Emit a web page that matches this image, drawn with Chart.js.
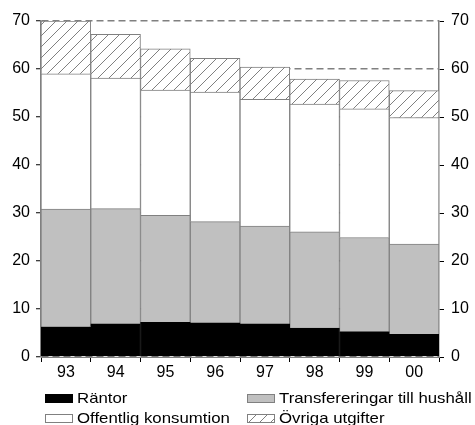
<!DOCTYPE html>
<html><head><meta charset="utf-8">
<script src="https://cdn.jsdelivr.net/npm/chart.js@4/dist/chart.umd.min.js"></script>
<style>html,body{margin:0;padding:0;background:#fff;}#wrap{width:475px;height:425px;position:relative;}</style>
</head><body><div id="wrap"><canvas id="c" width="475" height="425"></canvas></div>
<script>
const categories = ['93','94','95','96','97','98','99','00'];
const rantor = [6.3, 6.9, 7.2, 7.1, 6.9, 6.0, 5.3, 4.7];
const transfereringar = [24.5, 24.0, 22.3, 21.1, 20.4, 20.1, 19.6, 18.8];
const offentligKonsumtion = [28.2, 27.2, 26.1, 27.0, 26.4, 26.6, 26.8, 26.4];
const ovrigaUtgifter = [11.0, 9.1, 8.6, 7.0, 6.7, 5.2, 5.9, 5.6];
const seriesNames = ['Räntor', 'Transfereringar till hushåll', 'Offentlig konsumtion', 'Övriga utgifter'];
const yTicks = [0, 10, 20, 30, 40, 50, 60, 70];

const FONT = '"Liberation Sans", Arial, sans-serif';
const GRAY = '#808080';

function hatch() {
  const s = 11;
  const c = document.createElement('canvas');
  c.width = s; c.height = s;
  const g = c.getContext('2d');
  g.fillStyle = '#fff'; g.fillRect(0, 0, s, s);
  g.strokeStyle = GRAY; g.lineWidth = 1;
  g.beginPath();
  g.moveTo(0, s); g.lineTo(s, 0);
  g.moveTo(-2, 2); g.lineTo(2, -2);
  g.moveTo(s - 2, s + 2); g.lineTo(s + 2, s - 2);
  g.stroke();
  return g.createPattern(c, 'repeat');
}
const hatchPattern = hatch();

const legendPlugin = {
  id: 'customLegend',
  afterDraw(chart) {
    const ctx = chart.ctx;
    const pos = [[45, 394], [247, 394], [45, 414], [247, 414]];
    ctx.save();
    chart.data.datasets.forEach((ds, i) => {
      const [x, y] = pos[i];
      ctx.fillStyle = ds.backgroundColor;
      ctx.fillRect(x, y, 28, 9);
      ctx.strokeStyle = ds.borderColor;
      ctx.lineWidth = 1;
      ctx.strokeRect(x + 0.5, y + 0.5, 27, 8);
      ctx.save();
      ctx.translate(x + 32, y + 5);
      ctx.scale(1.12, 1);
      ctx.fillStyle = '#000';
      ctx.font = '15px ' + FONT;
      ctx.textBaseline = 'middle';
      ctx.textAlign = 'left';
      ctx.fillText(ds.label, 0, 0);
      ctx.restore();
    });
    ctx.restore();
  }
};

const tickFont = { family: FONT, size: 16 };

new Chart(document.getElementById('c'), {
  type: 'bar',
  data: {
    labels: categories,
    datasets: [
      { label: seriesNames[0], data: rantor, backgroundColor: '#000000', borderColor: '#000000', borderWidth: 1 },
      { label: seriesNames[1], data: transfereringar, backgroundColor: '#c0c0c0', borderColor: GRAY, borderWidth: 1 },
      { label: seriesNames[2], data: offentligKonsumtion, backgroundColor: '#ffffff', borderColor: GRAY, borderWidth: 1 },
      { label: seriesNames[3], data: ovrigaUtgifter, backgroundColor: hatchPattern, borderColor: GRAY, borderWidth: 1 }
    ]
  },
  options: {
    responsive: false,
    animation: false,
    devicePixelRatio: 1,
    layout: { padding: { top: 21, left: 0, right: 0, bottom: 0 } },
    datasets: { bar: { categoryPercentage: 1, barPercentage: 1 } },
    plugins: { legend: { display: false }, tooltip: { enabled: false } },
    scales: {
      x: {
        stacked: true,
        offset: true,
        grid: { offset: true, drawOnChartArea: false, tickLength: 5, tickColor: '#000', tickWidth: 1 },
        border: { display: true, color: GRAY, width: 1 },
        ticks: { color: '#000', font: tickFont, padding: 1, maxRotation: 0 },
        afterFit(s) { s.height = 68; }
      },
      y: {
        position: 'left',
        stacked: true,
        min: 0, max: 70,
        afterBuildTicks(s) { s.ticks = yTicks.map(v => ({ value: v })); },
        ticks: { color: '#000', font: tickFont, padding: 6 },
        grid: { color: GRAY, lineWidth: 1.5, tickLength: 5, tickColor: '#000', tickWidth: 1, tickBorderDash: [] },
        border: { display: true, color: GRAY, width: 1.5, dash: [7, 4] },
        afterFit(s) { s.width = 41; }
      },
      y2: {
        position: 'right',
        min: 0, max: 70,
        afterBuildTicks(s) { s.ticks = yTicks.map(v => ({ value: v })); },
        ticks: { color: '#000', font: tickFont, padding: 7 },
        grid: { drawOnChartArea: false, tickLength: 5, tickColor: '#000', tickWidth: 1 },
        border: { display: true, color: GRAY, width: 1.5 },
        afterFit(s) { s.width = 36; }
      }
    }
  },
  plugins: [legendPlugin]
});
</script>
</body></html>
